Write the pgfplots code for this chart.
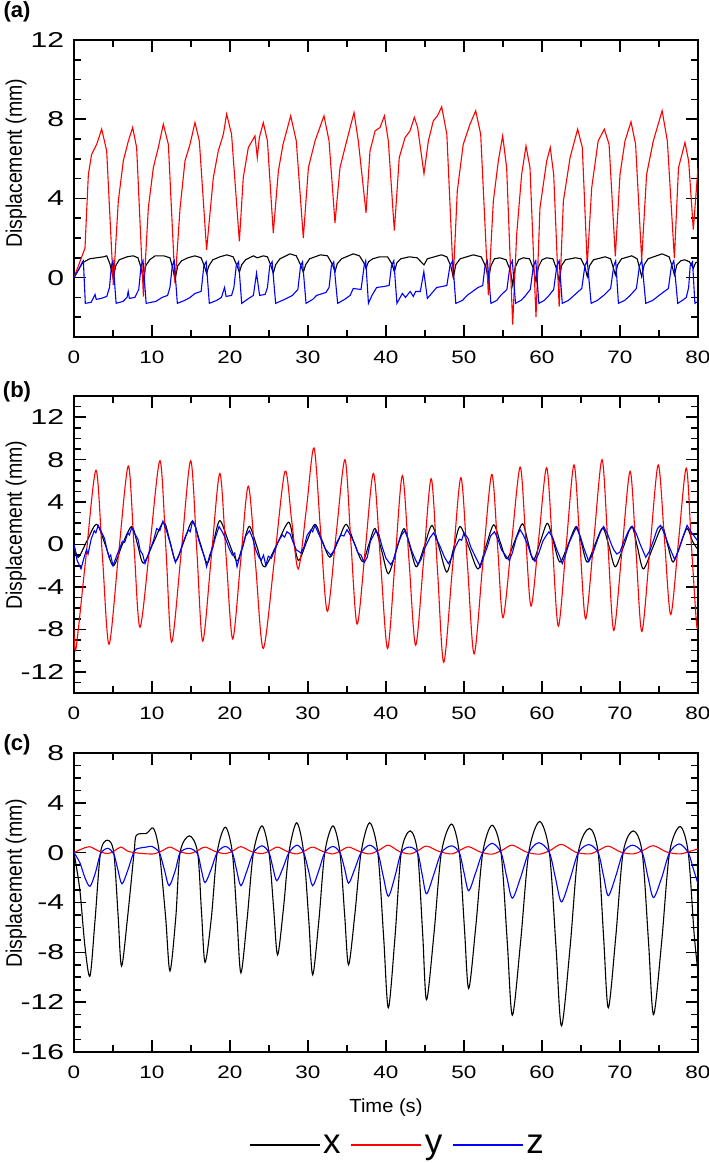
\documentclass[border=0pt]{standalone}
\usepackage{fontspec}
\setmainfont{Liberation Sans}
\usepackage{pgfplots}
\pgfplotsset{compat=1.18}

\pgfplotsset{
  panel/.style={
    scale only axis, width=624pt,
    xmin=0, xmax=80,
    xtick={0,10,...,80}, minor xtick={5,15,...,75},
    tick align=inside,
    major tick length=12pt, minor tick length=7pt,
    axis line style={line width=1.6pt},
    tick style={black, line width=1.6pt},
    /pgf/number format/assume math mode=true,
    xticklabel style={font=\fontsize{18}{18}\selectfont, yshift=-10pt, xscale=1.25},
    yticklabel style={font=\fontsize{21.5}{21.5}\selectfont, xshift=-5pt, xscale=1.4},
    ylabel={Displacement (mm)},
    ylabel style={font=\fontsize{19.5}{19.5}\selectfont, anchor=center, yscale=1.15, at={(axis description cs:-0.093,0.565)}},
    every axis plot/.append style={line width=1.1pt},
  },
}

\begin{document}
\begin{tikzpicture}
\useasboundingbox (-74pt,40pt) rectangle (635pt,-1123pt);

% ---------- (a) ----------
\begin{axis}[panel, at={(0pt,0pt)}, anchor=north west, height=297pt,
  ymin=-3, ymax=12, ytick={0,4,8,12}, minor ytick={-3,-2,...,12},
  ylabel style={at={(axis description cs:-0.093,0.585)}}]
% x
\addplot[black] coordinates {
(0,0) (0.5,0.35) (1.1,0.75) (2.0,0.95) (2.9,1.0) (3.8,1.05) (4.2,1.1) (4.6,0.7) (5.04,-0.03)
(5.35,0.6) (5.8,0.9) (6.8,1.05) (7.6,1.1) (8.2,1.0) (8.6,0.5) (8.9,-0.12)
(9.2,0.6) (9.7,0.9) (10.4,1.1) (11.5,1.1) (12.3,1.0) (12.65,0.5) (12.95,-0.12)
(13.3,0.6) (13.8,0.85) (14.6,1.0) (15.5,1.1) (16.3,1.0) (16.7,0.6) (17.0,0.22)
(17.3,0.6) (17.8,0.9) (18.7,1.05) (19.6,1.15) (20.4,1.05) (20.9,0.6) (21.2,0.27)
(21.5,0.65) (22.0,0.9) (23.0,1.1) (23.5,1.0) (24.3,1.1) (24.8,1.05) (25.25,0.6) (25.55,0.22)
(25.85,0.65) (26.4,0.95) (27.7,1.2) (28.5,1.1) (29.1,0.6) (29.4,0.27)
(29.7,0.65) (30.2,0.95) (31.6,1.15) (32.5,1.1) (33.15,0.65) (33.46,0.3)
(33.75,0.7) (34.3,0.95) (35.8,1.2) (36.6,1.1) (37.15,0.75) (37.44,0.47)
(37.75,0.8) (38.3,0.95) (39.2,1.05) (40.2,1.05) (40.75,0.7) (41.07,0.3)
(41.4,0.75) (41.9,0.95) (43.0,1.05) (44.0,1.0) (44.87,0.64) (45.3,0.95) (46.2,1.05)
(47.1,1.15) (47.8,1.05) (48.3,0.6) (48.63,0.0)
(48.95,0.65) (49.5,0.95) (51.2,1.15) (52.2,1.05) (52.8,0.55) (53.12,-0.12)
(53.45,0.6) (53.9,0.95) (54.6,1.0) (55.4,0.9) (55.95,0.35) (56.24,-0.37)
(56.55,0.5) (57.0,0.9) (57.6,1.0) (58.4,0.95) (58.95,0.4) (59.23,-0.2)
(59.55,0.55) (60.0,0.9) (60.6,1.0) (61.4,0.95) (61.9,0.4) (62.2,-0.2)
(62.5,0.6) (63.0,0.9) (64.3,1.0) (65.0,0.95) (65.5,0.55) (65.8,0.05)
(66.1,0.6) (66.6,0.9) (68.1,1.05) (68.8,0.95) (69.1,0.55) (69.4,0.14)
(69.7,0.65) (70.2,0.95) (71.5,1.1) (72.2,0.95) (72.5,0.5) (72.78,0.05)
(73.1,0.65) (73.6,0.95) (75.4,1.2) (76.3,1.05) (76.7,0.55) (76.97,0.14)
(77.3,0.65) (77.8,0.85) (78.3,0.9) (78.9,0.8) (79.4,0.47) (79.7,0.75) (80,0.8)
};
% y
\addplot[red] coordinates {
(0,0) (1.41,1.49) (1.84,5.21) (2.26,6.23) (2.91,6.73) (3.55,7.5) (4.19,6.4) (5.04,-0.37)
(5.68,3.86) (6.32,5.89) (6.97,6.9) (7.52,7.58) (8.03,6.57) (8.9,-0.96)
(9.53,3.52) (10.17,5.55) (10.81,6.57) (11.45,7.75) (12.1,6.73) (12.95,-0.29)
(13.6,3.52) (14.23,5.89) (14.87,6.73) (15.51,7.83) (16.07,6.9) (17.0,1.4)
(17.86,5.04) (18.5,6.4) (19.15,7.24) (19.57,8.26) (20.2,7.24) (21.2,1.83)
(21.7,5.04) (22.35,6.57) (23.2,7.16) (23.5,6.06) (23.76,7.07) (24.27,7.83) (24.8,6.9) (25.55,2.25)
(26.2,5.38) (26.8,6.73) (27.78,8.17) (28.5,6.9) (29.4,2.0)
(30.05,5.55) (30.9,6.9) (32.05,8.17) (32.7,6.9) (33.46,2.76)
(34.1,5.55) (34.96,6.9) (35.9,8.34) (36.45,6.9) (37.44,3.27)
(37.95,6.4) (38.6,7.41) (39.23,7.58) (39.8,8.17) (40.3,6.9) (41.07,2.37)
(41.7,6.06) (42.44,7.07) (43.08,7.41) (43.63,8.09) (44.06,7.58) (44.87,5.25)
(45.43,6.9) (46.07,7.92) (46.6,8.17) (47.14,8.63) (47.8,7.24) (48.63,-0.03)
(49.14,4.37) (49.9,6.73) (50.77,7.75) (51.5,8.43) (52.14,7.24) (53.12,-0.88)
(53.76,3.86) (54.4,5.89) (54.96,7.16) (55.47,5.55) (56.24,-2.37)
(56.75,2.17) (57.39,5.21) (57.95,6.65) (58.46,5.55) (59.23,-1.98)
(59.74,3.52) (60.6,5.89) (61.06,6.57) (61.5,5.2) (62.2,-1.47)
(62.74,3.86) (63.6,6.06) (64.57,7.5) (65.17,6.57) (65.8,0.64)
(66.37,4.53) (67.2,6.9) (67.99,7.5) (68.6,6.73) (69.4,1.07)
(70.0,5.21) (70.64,6.9) (71.41,7.87) (72.0,6.73) (72.78,0.9)
(73.41,5.21) (74.27,6.9) (75.4,8.43) (76.07,6.9) (76.97,0.98)
(77.5,5.55) (78.33,6.82) (78.8,5.89) (79.4,2.42) (80,5.55)
};
% z
\addplot[blue] coordinates {
(0,0) (0.6,0.4) (1.1,0.8) (1.2,0.85) (1.45,-1.3) (2.2,-1.25) (2.7,-0.85) (2.85,-1.1) (3.5,-1.05) (4.2,-0.95) (4.55,-0.5) (4.8,0.6) (5.0,0.85)
(5.4,-1.3) (6.3,-1.2) (6.8,-1.0) (6.95,-0.7) (7.1,-1.05) (7.8,-1.0) (8.3,-0.6) (8.6,0.6) (8.85,0.85)
(9.25,-1.3) (10.5,-1.2) (11.3,-1.0) (12.0,-0.9) (12.3,-0.5) (12.6,0.6) (12.85,0.85)
(13.25,-1.3) (14.2,-1.15) (14.9,-1.0) (15.5,-0.8) (16.3,-0.7) (16.65,0.6) (16.95,0.8)
(17.35,-1.3) (18.3,-1.15) (18.9,-1.0) (19.3,-0.5) (19.5,-0.95) (20.2,-0.9) (20.5,-0.5) (20.8,0.6) (21.1,0.8)
(21.5,-1.3) (22.4,-1.05) (23.0,-0.9) (23.4,0.22) (23.8,-0.9) (24.5,-0.85) (24.8,-0.5) (25.1,0.6) (25.4,0.8)
(25.85,-1.3) (27.0,-1.1) (28.0,-0.9) (28.7,-0.6) (29.05,0.6) (29.3,0.8)
(29.75,-1.3) (30.6,-1.1) (31.1,-0.9) (32.3,-0.75) (32.7,-0.5) (33.0,0.6) (33.3,0.8)
(33.8,-1.3) (34.7,-1.1) (35.4,-0.9) (35.8,-0.55) (36.8,-0.6) (37.2,0.6) (37.4,0.85)
(37.75,-1.3) (38.2,-0.9) (38.8,-0.5) (39.7,-0.45) (40.4,-0.4) (40.7,0.6) (41.0,0.85)
(41.4,-1.3) (42.1,-0.8) (42.5,-1.0) (43.1,-0.7) (43.5,-0.95) (43.8,-0.7) (44.4,-0.7) (44.85,0.3) (45.3,-1.05) (46.5,-0.5) (47.8,-0.4) (48.2,0.6) (48.55,0.85)
(48.95,-1.3) (49.8,-1.15) (50.4,-0.9) (51.8,-0.5) (52.4,-0.4) (52.7,0.6) (53.0,0.85)
(53.45,-1.3) (54.2,-1.15) (54.7,-0.9) (55.5,-0.6) (55.9,0.6) (56.2,0.85)
(56.6,-1.3) (57.3,-1.15) (57.8,-0.95) (58.5,-0.6) (58.9,0.6) (59.2,0.85)
(59.6,-1.3) (60.3,-1.15) (60.8,-0.95) (61.5,-0.6) (61.9,0.6) (62.2,0.85)
(62.6,-1.3) (63.4,-1.15) (64.1,-0.9) (65.1,-0.55) (65.5,0.6) (65.8,0.85)
(66.3,-1.3) (67.1,-1.15) (67.9,-0.9) (68.8,-0.55) (69.2,0.6) (69.45,0.85)
(69.8,-1.3) (70.6,-1.15) (71.3,-0.9) (72.1,-0.55) (72.5,0.6) (72.8,0.85)
(73.3,-1.3) (74.2,-1.15) (75.0,-0.9) (76.2,-0.55) (76.6,0.6) (76.9,0.85)
(77.4,-1.3) (78.0,-1.15) (78.5,-1.0) (78.8,-0.5) (79.0,0.6) (79.3,0.8) (79.6,-1.3) (80,-1.2)
};
\end{axis}
\node[font=\fontsize{22}{22}\selectfont\bfseries] at (-57pt,28pt) {(a)};

% ---------- (b) ----------
\begin{axis}[panel, at={(0pt,-356pt)}, anchor=north west, height=297pt,
  ymin=-14, ymax=14, ytick={-12,-8,...,12}, minor ytick={-14,-13,...,14}]
% x
\addplot[black, smooth] coordinates {
(0,0) (0.55,-1.2) (1.7,0.4) (2.9,1.9) (4.0,0) (5.04,-2.0) (6.2,0) (7.4,1.7) (8.15,0) (8.9,-1.75)
(10.2,0.2) (11.5,2.1) (12.3,0.3) (13.05,-1.55) (14.1,0.3) (15.2,2.2) (16.15,0.2) (17.1,-1.75)
(17.9,0.3) (18.7,2.25) (19.8,0.3) (20.9,-1.55) (21.7,0.1) (22.5,1.7) (23.45,-0.2) (24.4,-2.1)
(26.0,0.0) (27.5,2.1) (28.15,0.3) (28.8,-1.5) (29.85,0.3) (30.9,1.9) (31.85,0.3) (32.8,-1.2)
(33.85,0.3) (34.9,1.9) (35.95,0.1) (37.0,-1.6) (37.8,0) (38.6,1.5) (39.45,-0.6) (40.3,-2.75)
(41.3,-0.6) (42.3,1.5) (43.1,-0.3) (43.9,-2.1) (44.9,-0.2) (45.9,1.8) (46.85,-0.4) (47.8,-2.6)
(48.65,-0.4) (49.5,1.7) (50.65,-0.3) (51.8,-2.3) (52.8,-0.2) (53.8,1.85) (54.65,0.2) (55.5,-1.35)
(56.5,0.3) (57.5,1.95) (58.2,0.25) (58.9,-1.45) (59.8,0.3) (60.7,2.0) (61.5,0.15) (62.3,-1.65)
(63.35,0) (64.4,1.7) (65.1,0) (65.8,-1.65) (66.8,0) (67.8,1.55) (68.6,-0.2) (69.4,-2.1)
(70.45,-0.2) (71.5,1.7) (72.25,-0.3) (73.0,-2.3) (74.2,-0.3) (75.4,1.65) (76.1,0) (76.8,-1.65)
(77.7,-0.1) (78.6,1.5) (79.3,0.3) (80,-0.5)
};
% y
\addplot[red, smooth] coordinates {
(0,-8.0) (0.26,-9.8) (1.5,-1.4) (2.82,7.0) (3.65,-1.2) (4.49,-9.4) (5.7,-1.0) (6.96,7.4)
(7.7,-0.2) (8.46,-7.8) (9.75,0.05) (11.03,7.9) (11.8,-0.6) (12.52,-9.2) (13.75,-0.7) (14.96,7.9)
(15.75,-0.6) (16.5,-9.1) (17.6,-1.2) (18.7,6.7) (19.5,-1.1) (20.34,-8.9) (21.35,-1.7) (22.35,5.5)
(23.3,-2.1) (24.27,-9.8) (25.7,-1.4) (27.05,6.9) (27.9,2.3) (28.76,-2.3) (29.8,3.4) (30.77,9.1)
(31.6,1.4) (32.48,-6.3) (33.6,0.9) (34.74,8.0) (35.5,0.2) (36.3,-7.5) (37.35,-0.4) (38.4,6.7)
(39.3,-1.6) (40.2,-9.8) (41.15,-1.7) (42.1,6.5) (42.95,-1.5) (43.8,-9.5) (44.8,-1.7) (45.8,6.2)
(46.6,-2.4) (47.4,-11.1) (48.5,-2.4) (49.6,6.3) (50.45,-2.0) (51.3,-10.3) (52.4,-1.85) (53.55,6.6)
(54.3,-0.1) (55.0,-6.9) (56.1,0.2) (57.2,7.3) (57.9,0.75) (58.6,-5.8) (59.6,0.7) (60.6,7.25)
(61.35,-0.2) (62.1,-7.7) (63.1,-0.1) (64.1,7.5) (64.85,0.25) (65.6,-7.0) (66.65,0.5) (67.7,8.0)
(68.45,0) (69.2,-8.1) (70.25,-0.6) (71.3,6.9) (72.05,-0.6) (72.8,-8.2) (73.85,-0.3) (74.9,7.5)
(75.7,0.5) (76.5,-6.6) (77.5,0.3) (78.5,7.2) (79.15,0) (79.8,-7.4) (80,-7.6)
};
% z
\addplot[blue] coordinates {
(0,0) (0.4,-1.5) (0.9,-2.3) (1.3,-1.2) (1.6,-0.5) (1.8,-0.9) (2.2,0.5) (2.6,1.3) (2.8,1.1) (3.1,1.8) (3.5,1.2)
(3.9,0.6) (4.2,-0.4) (4.5,-1.2) (4.7,-1.0) (5.0,-2.0) (5.5,-1.0) (5.9,-0.3) (6.2,0.3) (6.5,0.2) (6.9,1.1) (7.1,0.9) (7.4,1.6)
(7.8,1.0) (8.2,0.5) (8.5,-0.6) (8.8,-0.9) (9.1,-1.8) (9.5,-1.0) (9.9,-0.2) (10.2,0.4) (10.6,1.5) (11.0,1.3) (11.4,2.2)
(11.9,1.2) (12.3,0.2) (12.6,-0.6) (13.0,-1.7) (13.5,-0.9) (13.9,0.0) (14.3,0.8) (14.7,1.4) (14.9,1.2) (15.2,2.2) (15.6,1.6)
(16.0,0.4) (16.4,-0.5) (16.7,-1.1) (17.0,-2.1) (17.4,-1.0) (17.8,-0.3) (18.1,0.6) (18.6,1.7) (19.0,1.2) (19.4,0.6) (19.9,-0.4)
(20.3,-1.0) (20.6,-0.8) (20.9,-2.1) (21.3,-1.0) (21.7,-0.1) (22.0,0.8) (22.5,1.3) (22.9,0.6) (23.3,-0.5) (23.7,-1.2) (24.0,-1.5)
(24.3,-1.0) (24.6,-2.0) (24.9,-1.1) (25.3,-1.3) (25.7,-0.6) (26.2,0.3) (26.7,0.9) (27.0,0.7) (27.3,1.2) (27.7,1.0) (28.1,0.2)
(28.5,-0.5) (29.1,-0.8) (29.5,-0.2) (29.9,0.9) (30.4,1.4) (30.6,1.2) (30.9,1.8) (31.3,1.1) (31.8,0.3) (32.2,-0.4) (32.9,-1.0)
(33.3,-0.6) (33.7,0.2) (34.2,0.9) (34.6,0.8) (35.0,1.4) (35.5,0.8) (35.9,0.2) (36.4,-0.8) (36.8,-1.0) (37.2,-1.7) (37.6,-1.2) (38.0,0.3)
(38.7,1.3) (39.1,0.9) (39.5,-0.2) (40.0,-1.3) (40.6,-1.9) (41.0,-1.4) (41.5,0.0) (42.0,0.9) (42.4,1.3) (42.8,0.6)
(43.3,-0.6) (43.7,-1.3) (44.1,-1.9) (44.5,-1.4) (45.0,-0.3) (45.6,0.6) (46.1,1.1) (46.5,0.5) (47.0,-0.3) (47.5,-1.2) (48.0,-1.8)
(48.4,-1.3) (48.9,-0.2) (49.4,0.5) (49.7,0.4) (50.0,1.1) (50.5,0.6) (50.9,-0.3) (51.5,-1.2) (52.1,-2.1) (52.6,-1.0) (53.0,-0.2)
(53.4,0.8) (53.9,1.2) (54.3,0.6) (54.8,-0.5) (55.2,-0.9) (55.8,-1.5) (56.2,-0.8) (56.7,0.6) (57.2,1.4) (57.6,0.9)
(58.1,0.1) (58.6,-1.0) (59.1,-1.6) (59.6,-0.8) (60.1,0.3) (60.5,0.8) (60.9,1.2) (61.4,0.6) (61.9,-0.5) (62.3,-1.2) (62.6,-1.8)
(63.0,-1.0) (63.5,0.2) (64.0,1.0) (64.4,1.6) (64.9,0.8) (65.4,-0.4) (66.0,-1.6) (66.5,-0.9) (67.0,0.2) (67.5,1.2)
(67.9,1.7) (68.4,1.0) (68.9,0.0) (69.2,-0.5) (69.6,-0.9) (70.0,-0.7) (70.5,0.3) (71.1,1.3) (71.6,1.7) (72.1,1.0) (72.6,0.0)
(73.3,-1.2) (73.8,-0.6) (74.3,0.4) (74.8,1.5) (75.2,1.8) (75.7,1.0) (76.3,-0.2) (77.0,-1.4) (77.5,-0.6) (78.0,0.6)
(78.6,1.8) (79.0,1.3) (79.5,0.8) (80,0.3)
};
\end{axis}
\node[font=\fontsize{22}{22}\selectfont\bfseries] at (-57pt,-352pt) {(b)};

% ---------- (c) ----------
\begin{axis}[panel, at={(0pt,-713pt)}, anchor=north west, height=299pt,
  ymin=-16, ymax=8, ytick={-16,-12,...,8}, minor ytick={-16,-15,...,8},
  xlabel={Time (s)},
  xlabel style={font=\fontsize{19}{19}\selectfont, anchor=center, xscale=1.06, at={(axis description cs:0.5,0)}, yshift=-56pt},
  legend columns=3,
  legend style={at={(axis description cs:0.5,0)}, anchor=center, yshift=-93pt, xshift=12pt,
    draw=none, fill=none, font=\fontsize{35}{35}\selectfont,
    nodes={inner xsep=3pt, inner ysep=2pt},
    /tikz/every even column/.append style={column sep=7pt}},
  legend image code/.code={\draw[#1, line width=1.1pt] (0pt,0pt) -- (70pt,0pt);},
]
% x
\addplot[black, smooth] coordinates {
(0,0) (0.75,-3.0) (1.4,-7.5) (2.05,-9.9) (2.7,-5.4) (3.4,0) (4.3,1.0) (5.1,0) (5.65,-5.0) (6.1,-9.1)
(6.9,-5.0) (7.7,0) (8.0,1.4) (9.3,1.55) (10.2,1.95) (10.95,0) (11.75,-5.2) (12.3,-9.5)
(13.05,-5.2) (13.6,0) (14.8,1.35) (15.85,0) (16.35,-4.8) (16.8,-8.8)
(17.6,-5.3) (18.35,0) (19.4,2.05) (20.3,0) (20.9,-5.3) (21.4,-9.65)
(22.2,-5.3) (23.0,0) (24.1,2.15) (25.0,0) (25.6,-4.5) (26.1,-8.2)
(26.85,-4.5) (27.55,0) (28.55,2.4) (29.45,0) (30.1,-5.4) (30.6,-9.8)
(31.4,-5.4) (32.15,0) (33.2,2.15) (34.1,0) (34.7,-5.0) (35.2,-9.0)
(36.0,-5.0) (36.8,0) (37.9,2.4) (38.95,0) (39.7,-6.8) (40.3,-12.45)
(41.15,-6.8) (41.95,0) (43.1,1.75) (44.05,0) (44.7,-6.5) (45.2,-11.8)
(46.15,-6.5) (47.1,0) (48.4,2.3) (49.4,0) (50.05,-6.0) (50.6,-10.9)
(51.5,-6.0) (52.4,0) (53.6,2.2) (54.75,0) (55.55,-7.2) (56.2,-13.05)
(57.25,-7.2) (58.3,0) (59.7,2.5) (60.95,0) (61.8,-7.6) (62.5,-13.9)
(63.6,-7.6) (64.65,0) (66.1,1.95) (67.2,0) (67.9,-6.8) (68.5,-12.45)
(69.45,-6.8) (70.4,0) (71.7,1.75) (72.85,0) (73.65,-7.1) (74.3,-13.0)
(75.35,-7.1) (76.35,0) (77.7,2.1) (78.75,0) (79.5,-6.5) (80,-9.6)
};
\addlegendentry{x}
% y
\addplot[red, smooth] coordinates {
(0,0) (1.0,0.3) (2.0,0.48) (3.1,0.15) (4.3,-0.08) (5.2,0.15) (6.0,0.45) (7.0,0.1) (8.5,-0.05)
(10.2,-0.1) (11.3,0.15) (12.3,0.45) (13.5,0.1) (14.8,-0.08) (15.8,0.15) (16.8,0.45) (18.1,0.1)
(19.4,-0.08) (20.4,0.15) (21.4,0.48) (22.7,0.1) (24.1,-0.08) (25.1,0.15) (26.1,0.45) (27.3,0.1)
(28.55,-0.1) (29.6,0.15) (30.6,0.45) (31.9,0.1) (33.2,-0.1) (34.2,0.15) (35.2,0.45) (36.6,0.1)
(37.9,-0.1) (39.1,0.2) (40.3,0.6) (41.7,0.1) (43.1,-0.1) (44.2,0.2) (45.2,0.53) (46.8,0.1)
(48.4,-0.1) (49.5,0.2) (50.6,0.48) (52.1,0.05) (53.6,-0.12) (54.9,0.2) (56.2,0.6) (58.0,0.05)
(59.7,-0.12) (61.1,0.2) (62.5,0.67) (64.3,0.05) (66.1,-0.1) (67.3,0.2) (68.5,0.53) (70.1,0.05)
(71.7,-0.1) (73.0,0.2) (74.3,0.56) (76.0,0.05) (77.7,-0.1) (78.9,0.1) (80,0.3)
};
\addlegendentry{y}
% z
\addplot[blue, smooth] coordinates {
(0,0) (0.75,-0.8) (1.4,-2.0) (2.05,-2.7) (2.75,-1.6) (3.4,-0.1) (4.3,0.35) (5.1,-0.1) (5.6,-1.3) (6.15,-2.5)
(6.9,-1.4) (7.7,0.1) (8.3,0.35) (9.3,0.45) (10.0,0.5) (10.95,0) (11.6,-1.4) (12.2,-2.65)
(13.0,-1.4) (13.6,0) (14.8,0.35) (15.85,-0.1) (16.3,-1.3) (16.8,-2.4)
(17.6,-1.3) (18.35,0) (19.4,0.5) (20.3,0) (20.85,-1.4) (21.4,-2.65)
(22.2,-1.4) (23.0,0) (24.1,0.55) (25.0,0) (25.5,-1.2) (26.0,-2.25)
(26.8,-1.2) (27.55,0) (28.6,0.6) (29.45,0) (30.05,-1.4) (30.6,-2.65)
(31.4,-1.4) (32.15,0) (33.2,0.5) (34.1,0) (34.7,-1.3) (35.2,-2.45)
(36.0,-1.3) (36.8,0) (37.9,0.6) (38.95,0) (39.65,-1.9) (40.3,-3.5)
(41.15,-1.9) (41.95,0) (43.0,0.45) (44.05,0) (44.65,-1.8) (45.2,-3.3)
(46.15,-1.7) (47.1,0) (48.4,0.55) (49.4,0) (50.0,-1.6) (50.6,-3.05)
(51.5,-1.6) (52.4,0) (53.6,0.75) (54.75,0) (55.5,-2.0) (56.2,-3.65)
(57.25,-2.0) (58.3,0) (59.6,0.8) (60.95,0) (61.75,-2.1) (62.5,-3.95)
(63.6,-2.1) (64.65,0) (66.0,0.65) (67.2,0) (67.9,-1.9) (68.5,-3.45)
(69.45,-1.9) (70.4,0) (71.6,0.6) (72.85,0) (73.6,-2.0) (74.3,-3.6)
(75.35,-2.0) (76.35,0) (77.6,0.7) (78.75,0) (79.4,-1.3) (80,-2.5)
};
\addlegendentry{z}
\end{axis}
\node[font=\fontsize{22}{22}\selectfont\bfseries] at (-57pt,-705pt) {(c)};
\end{tikzpicture}
\end{document}
